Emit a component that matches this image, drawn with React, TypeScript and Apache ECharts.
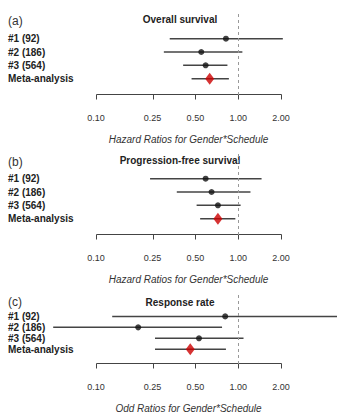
import React, { useEffect, useRef } from "react";
import * as echarts from "echarts";

const studies = ["#1 (92)", "#2 (186)", "#3 (564)", "Meta-analysis"];
const rowPos = [4, 3, 2, 1];

const panelLetters = ["(a)", "(b)", "(c)"];
const panelTitles = ["Overall survival", "Progression-free survival", "Response rate"];
const axisTitles = [
  "Hazard Ratios for Gender*Schedule",
  "Hazard Ratios for Gender*Schedule",
  "Odd Ratios for Gender*Schedule",
];

// Overall survival
const osEst = [0.82, 0.55, 0.59, 0.63];
const osLow = [0.33, 0.3, 0.41, 0.47];
const osHigh = [2.06, 1.07, 0.84, 0.86];
// Progression-free survival
const pfsEst = [0.59, 0.65, 0.72, 0.72];
const pfsLow = [0.24, 0.37, 0.51, 0.54];
const pfsHigh = [1.46, 1.22, 1.04, 0.955];
// Response rate
const rrEst = [0.81, 0.198, 0.53, 0.46];
const rrLow = [0.13, 0.05, 0.26, 0.26];
const rrHigh = [6.0, 0.77, 1.09, 0.82];

const tickValues = [0.1, 0.25, 0.5, 1, 2];

const FONT = "'Liberation Sans', Arial, Helvetica, sans-serif";

const panelData = [
  { est: osEst, low: osLow, high: osHigh },
  { est: pfsEst, low: pfsLow, high: pfsHigh },
  { est: rrEst, low: rrLow, high: rrHigh },
];

// layout
const gridTops = [12, 152, 294.5];
const gridHeights = [83, 83, 82.5];
const yMins = [-0.225, -0.225, -0.346];
const titleYs = [19, 160, 302];
const letterYs = [22, 163, 303];

function axisElements(cs: any, api: any) {
  const yA = Math.round(cs.y + cs.height) - 0.5;
  const xs = tickValues.map((t) => Math.round(api.coord([t, 1])[0]) + 0.5);
  const els: any[] = [
    {
      type: "line",
      shape: { x1: xs[0], y1: yA, x2: xs[xs.length - 1], y2: yA },
      style: { stroke: "#444", lineWidth: 1 },
    },
  ];
  xs.forEach((x) => {
    els.push({
      type: "line",
      shape: { x1: x, y1: yA, x2: x, y2: yA + 5 },
      style: { stroke: "#444", lineWidth: 1 },
    });
  });
  return els;
}

export default function App() {
  const ref = useRef<HTMLDivElement>(null);
  useEffect(() => {
    if (!ref.current) return;
    const chart = echarts.init(ref.current, null, { renderer: "svg" });

    const grids: any[] = [];
    const xAxes: any[] = [];
    const yAxes: any[] = [];
    const series: any[] = [];
    const graphics: any[] = [];

    panelData.forEach((pd, i) => {
      grids.push({ left: 96, width: 185, top: gridTops[i], height: gridHeights[i] });
      xAxes.push({
        gridIndex: i,
        type: "log",
        min: 0.1,
        max: 2,
        axisLine: { show: false },
        axisTick: { show: false },
        splitLine: { show: false },
        axisLabel: {
          show: true,
          customValues: [...tickValues],
          formatter: (v: number) => Number(v).toFixed(2),
          fontSize: 9,
          color: "#333",
          fontFamily: FONT,
          margin: 18,
        },
        name: axisTitles[i],
        nameLocation: "middle",
        nameGap: 39,
        nameTextStyle: { fontSize: 10, fontStyle: "italic", color: "#333", fontFamily: FONT },
      });
      yAxes.push({
        gridIndex: i,
        type: "value",
        min: yMins[i],
        max: 6,
        axisLine: { show: false, onZero: false },
        axisTick: { show: false },
        splitLine: { show: false },
        axisLabel: {
          show: true,
          customValues: [...rowPos],
          align: "left",
          margin: 88,
          fontSize: 10,
          fontWeight: "bold",
          color: "#222",
          fontFamily: FONT,
          formatter: (v: number) => {
            const idx = rowPos.indexOf(Math.round(v * 1000) / 1000);
            return idx >= 0 ? studies[idx] : "";
          },
        },
      });

      series.push({
        type: "custom",
        xAxisIndex: i,
        yAxisIndex: i,
        clip: false,
        data: pd.low.map((lo, k) => [lo, pd.high[k], rowPos[k]]),
        encode: { x: [0, 1], y: 2 },
        renderItem: (params: any, api: any) => {
          const y = api.value(2);
          const p1 = api.coord([api.value(0), y]);
          const p2 = api.coord([api.value(1), y]);
          const children: any[] = [
            {
              type: "line",
              shape: { x1: p1[0], y1: p1[1], x2: p2[0], y2: p2[1] },
              style: { stroke: "#444", lineWidth: 1.5 },
            },
          ];
          if (params.dataIndex === 0) {
            axisElements(params.coordSys, api).forEach((e) => children.push(e));
          }
          return { type: "group", children };
        },
        z: 2,
      });
      series.push({
        type: "scatter",
        xAxisIndex: i,
        yAxisIndex: i,
        symbol: "circle",
        symbolSize: 6,
        itemStyle: { color: "#111" },
        data: pd.est.slice(0, 3).map((e, k) => [e, rowPos[k]]),
        markLine: {
          silent: true,
          symbol: ["none", "none"],
          label: { show: false },
          lineStyle: { type: [3, 3], color: "#999", width: 1 },
          data: [{ xAxis: 1 }],
        },
        z: 3,
      });
      series.push({
        type: "scatter",
        xAxisIndex: i,
        yAxisIndex: i,
        symbol: "diamond",
        symbolSize: [9, 12],
        itemStyle: { color: "#cc0000" },
        data: [[pd.est[3], rowPos[3]]],
        z: 4,
      });

      graphics.push({
        type: "text",
        left: 8,
        top: letterYs[i] - 7,
        style: { text: panelLetters[i], fill: "#333", font: `12px ${FONT}` },
      });
      graphics.push({
        type: "text",
        x: 180,
        y: titleYs[i],
        style: {
          text: panelTitles[i],
          align: "center",
          verticalAlign: "middle",
          font: `bold 10px ${FONT}`,
          fill: "#222",
        },
      });
    });

    chart.setOption({
      animation: false,
      backgroundColor: "#fff",
      grid: grids,
      xAxis: xAxes,
      yAxis: yAxes,
      series,
      graphic: graphics,
    });

    return () => chart.dispose();
  }, []);

  return (
    <div
      ref={ref}
      style={{ position: "fixed", left: 0, top: 0, width: 337, height: 414 }}
    />
  );
}
